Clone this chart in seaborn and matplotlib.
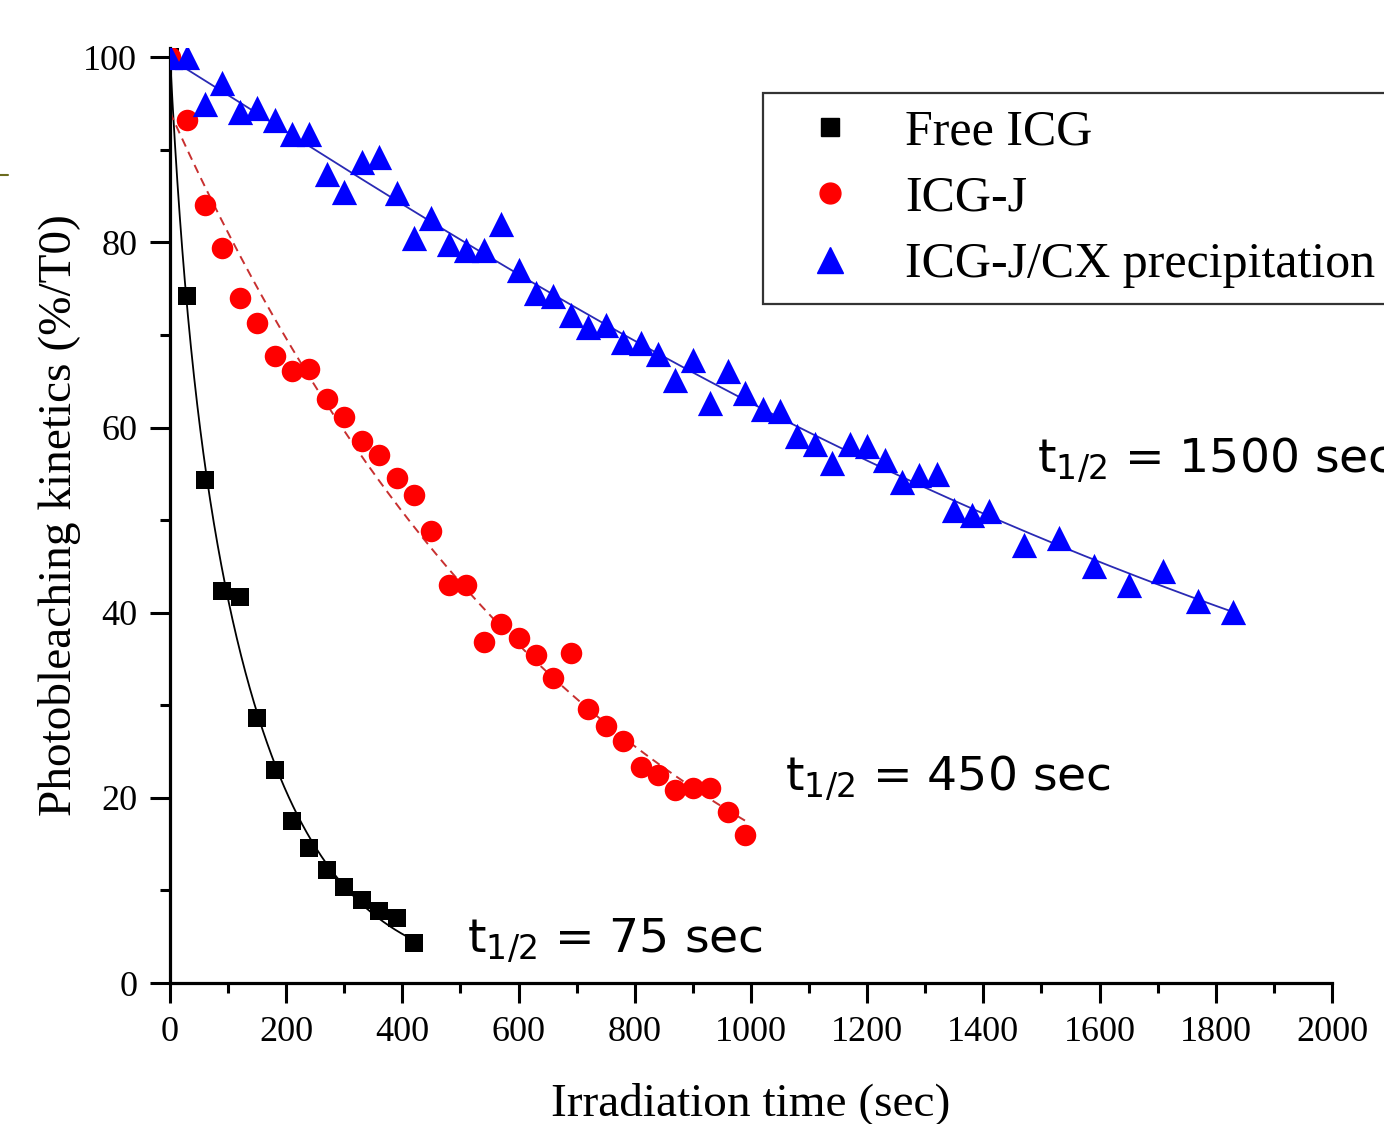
import numpy as np
import pandas as pd
import matplotlib
matplotlib.use('Agg')
import matplotlib.pyplot as plt
from matplotlib.lines import Line2D
import seaborn as sns

# Data (time in sec, signal in % of T0)
free_t = [0, 30, 60, 90, 120, 150, 180, 210, 240, 270, 300, 330, 360, 390, 420]
free_v = [100, 74.2, 54.3, 42.3, 41.7, 28.6, 23.0, 17.5, 14.6, 12.2, 10.4, 9.0, 7.8, 7.0, 4.3]

j_t = [0, 30, 60, 90, 120, 150, 180, 210, 240, 270, 300, 330, 360, 390, 420, 450, 480,
       510, 540, 570, 600, 630, 660, 690, 720, 750, 780, 810, 840, 870, 900, 930, 960, 990]
j_v = [100, 93.2, 84.0, 79.4, 74.0, 71.3, 67.7, 66.1, 66.3, 63.1, 61.1, 58.6, 57.0, 54.5,
       52.7, 48.8, 43.0, 43.0, 36.8, 38.8, 37.3, 35.4, 32.9, 35.7, 29.6, 27.8, 26.1, 23.3,
       22.5, 20.8, 21.1, 21.1, 18.5, 16.0]

cx_t = [0, 30, 60, 90, 120, 150, 180, 210, 240, 270, 300, 330, 360, 390, 420, 450, 480,
        510, 540, 570, 600, 630, 660, 690, 720, 750, 780, 810, 840, 870, 900, 930, 960,
        990, 1020, 1050, 1080, 1110, 1140, 1170, 1200, 1230, 1260, 1290, 1320, 1350, 1380,
        1410, 1470, 1530, 1590, 1650, 1710, 1770, 1830]
cx_v = [100, 100, 94.9, 97.2, 94.1, 94.5, 93.2, 91.7, 91.7, 87.4, 85.4, 88.7, 89.2, 85.3,
        80.5, 82.6, 79.8, 79.2, 79.2, 82.0, 77.0, 74.5, 74.2, 72.2, 70.9, 71.1, 69.2, 69.1,
        67.9, 65.1, 67.3, 62.7, 66.1, 63.7, 62.0, 61.8, 59.1, 58.2, 56.2, 58.2, 58.0, 56.5,
        54.1, 54.9, 55.0, 51.1, 50.6, 51.0, 47.3, 48.1, 45.1, 43.0, 44.5, 41.3, 40.1]

labels = ['Free ICG', 'ICG-J', 'ICG-J/CX precipitation']
half_lives = ['75', '450', '1500']


def fit_decay(t, y):
    # two-exponential least squares fit, rates picked on a grid
    t = np.asarray(t, float)
    y = np.asarray(y, float)
    ks = np.logspace(-4.5, -1, 70)
    best = None
    for i, k1 in enumerate(ks):
        for k2 in ks[i:]:
            A = np.column_stack([np.exp(-k1 * t), np.exp(-k2 * t)])
            c, *_ = np.linalg.lstsq(A, y, rcond=None)
            r = np.sum((A @ c - y) ** 2)
            if best is None or r < best[0]:
                best = (r, k1, k2, c)
    _, k1, k2, c = best
    tt = np.linspace(0, t.max() + 5, 400)
    return pd.DataFrame({'t': tt, 'v': c[0] * np.exp(-k1 * tt) + c[1] * np.exp(-k2 * tt)})


sns.set_style('ticks')
plt.rcParams['font.family'] = ['Liberation Serif', 'DejaVu Serif']
plt.rcParams['mathtext.fontset'] = 'dejavusans'
plt.rcParams['text.color'] = 'black'
plt.rcParams['axes.labelcolor'] = 'black'

fig = plt.figure(figsize=(13.84, 11.24), dpi=100)
ax = fig.add_axes([0.1228, 0.1254, 0.8396, 0.8319])

# fit curves
sns.lineplot(data=fit_decay(free_t, free_v), x='t', y='v', color='black', lw=1.3, ax=ax)
sns.lineplot(data=fit_decay(j_t, j_v), x='t', y='v', color='#c83030', lw=1.4,
             ax=ax, linestyle=(0, (4.5, 3)))
sns.lineplot(data=fit_decay(cx_t, cx_v), x='t', y='v', color='#2a2ab4', lw=1.3, ax=ax)

# data points
sns.scatterplot(x=free_t, y=free_v, marker='s', s=175, color='black', linewidth=0, ax=ax, zorder=3)
sns.scatterplot(x=j_t, y=j_v, marker='o', s=240, color='#ff0000', linewidth=0, ax=ax, zorder=3)
sns.scatterplot(x=cx_t, y=cx_v, marker='^', s=330, color='#0000ff', linewidth=0, ax=ax, zorder=3)

ax.set_xlim(0, 2000)
ax.set_ylim(0, 101)
ax.set_xticks(np.arange(0, 2001, 200))
ax.set_xticks(np.arange(100, 2000, 200), minor=True)
ax.set_yticks(np.arange(0, 101, 20))
ax.set_yticks(np.arange(10, 100, 20), minor=True)
ax.tick_params(which='major', direction='out', length=14.5, width=2.2, labelsize=26, pad=9,
               color='black', labelcolor='black')
ax.tick_params(which='minor', direction='out', length=7.5, width=2.2, color='black')
for side in ['top', 'right']:
    ax.spines[side].set_visible(False)
for side in ['left', 'bottom']:
    ax.spines[side].set_linewidth(2.3)
    ax.spines[side].set_color('black')

ax.set_xlabel('Irradiation time (sec)', fontsize=34, labelpad=24)
ax.set_ylabel('Photobleaching kinetics (%/T0)', fontsize=34, labelpad=2)

# half-life annotations
ann_pos = [(511, 3.3), (1058, 20.8), (1492, 55.2)]
for (x, y), h in zip(ann_pos, half_lives):
    ax.text(x, y, r'$\mathregular{t_{1/2}}$ = ' + h + ' sec', fontsize=34,
            family='DejaVu Sans', va='baseline', ha='left', color='black')

handles = [
    Line2D([], [], ls='none', marker='s', markersize=13, color='black'),
    Line2D([], [], ls='none', marker='o', markersize=15, color='#ff0000'),
    Line2D([], [], ls='none', marker='^', markersize=19, color='#0000ff'),
]
leg = fig.legend(handles, labels, loc='upper left', bbox_to_anchor=(0.5513, 0.917, 0.6, 0.0),
                 mode='expand', fontsize=36, frameon=True, fancybox=False, framealpha=1,
                 edgecolor='#333333', borderpad=0.31, handlelength=2.06, handletextpad=0.47,
                 labelspacing=0.4, borderaxespad=0)
leg.get_frame().set_linewidth(1.6)

# small stray mark at the left edge
fig.add_artist(Line2D([0, 0.006], [0.8443, 0.8443], color='#6b6b1e', lw=1.5))

fig.savefig('out.png', dpi=100)
